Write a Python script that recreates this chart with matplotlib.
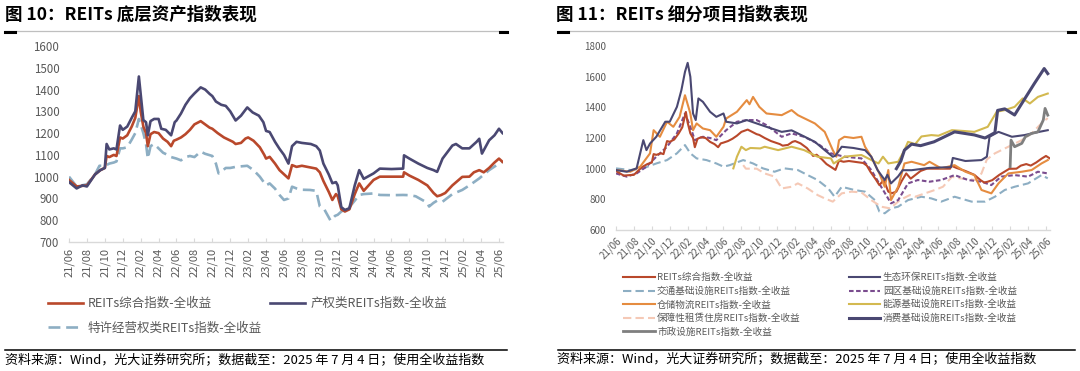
import matplotlib
matplotlib.use('Agg')
import matplotlib.pyplot as plt
from matplotlib.lines import Line2D

plt.rcParams['font.family'] = ['Noto Sans CJK SC', 'DejaVu Sans']

# ---------------- data ----------------
# x positions are months since 2021/06
tick_pos = list(range(0, 49, 2))
tick_labels = ['21/06', '21/08', '21/10', '21/12', '22/02', '22/04', '22/06', '22/08',
               '22/10', '22/12', '23/02', '23/04', '23/06', '23/08', '23/10', '23/12',
               '24/02', '24/04', '24/06', '24/08', '24/10', '24/12', '25/02', '25/04', '25/06']

# REITs综合指数-全收益 (both panels)
t_total = [0, 0.85, 2, 2.9, 3.5, 4.0, 4.2, 4.5, 5, 5.3, 5.7, 6.0, 6.5, 7.0, 7.4, 7.8, 8.0, 8.3,
           8.6, 8.8, 9.1, 9.5, 10.0, 10.5, 11.0, 11.4, 11.7, 12.0, 12.5, 13.0, 13.5, 14.0, 14.7,
           15.2, 15.7, 16.0, 16.6, 17.3, 17.8, 18.3, 18.6, 19.2, 19.7, 20.0, 20.6, 21.3, 21.8,
           22.0, 22.4, 23.0, 23.5, 24.5, 24.9, 25.4, 26, 27.6, 28, 28.4, 29, 29.4, 29.8, 30.0,
           30.4, 30.8, 31.3, 31.9, 32.4, 32.9, 34, 34.7, 36, 37.3, 37.4, 38, 39, 40, 40.7, 41.1,
           41.5, 42, 42.8, 43.9, 44.7, 45.2, 45.8, 46.3, 46.9, 47.5, 48, 48.4]
v_total = [985, 955, 960, 1010, 1030, 1040, 1095, 1090, 1100, 1095, 1180, 1175, 1190, 1230, 1270,
           1370, 1300, 1230, 1200, 1140, 1195, 1205, 1200, 1175, 1160, 1140, 1165, 1170, 1180,
           1195, 1215, 1240, 1255, 1240, 1225, 1220, 1200, 1180, 1170, 1160, 1150, 1155, 1175,
           1180, 1165, 1135, 1100, 1083, 1091, 1060, 1030, 992, 1053, 1045, 1050, 1037, 1020, 980,
           930, 893, 920, 910, 850, 840, 850, 920, 969, 935, 985, 1000, 1000, 1000, 1020, 1005,
           985, 960, 925, 910, 915, 925, 960, 999, 1000, 1020, 1030, 1020, 1040, 1065, 1083, 1068]

# 产权类REITs指数-全收益
t_equity = [0, 0.85, 1.5, 2, 2.9, 3.5, 4.0, 4.2, 4.5, 5.0, 5.3, 5.7, 6.0, 6.5, 7.0, 7.4, 7.8, 8.0,
            8.3, 8.6, 8.8, 9.1, 9.5, 10.0, 10.3, 10.8, 11.4, 11.8, 12.0, 12.5, 13.0, 13.5, 14.0,
            14.7, 15.2, 15.7, 16.0, 16.4, 17.0, 17.5, 18.0, 18.6, 19.2, 19.9, 20.5, 21.2, 21.7,
            22.0, 22.4, 23.0, 23.5, 24.0, 24.5, 24.9, 25.4, 26, 27, 27.6, 28, 28.4, 29, 29.4, 29.8,
            30.0, 30.4, 30.8, 31.3, 31.9, 32.4, 32.9, 34, 34.7, 36, 37.3, 37.4, 38, 39, 40, 40.7,
            41.1, 41.7, 42.8, 43.2, 43.9, 44.7, 45.5, 45.8, 46.1, 46.9, 47.5, 48, 48.4]
v_equity = [975, 946, 960, 955, 1010, 1030, 1040, 1150, 1125, 1130, 1125, 1235, 1215, 1230, 1270,
            1300, 1460, 1380, 1260, 1250, 1190, 1255, 1265, 1265, 1220, 1215, 1190, 1250, 1258,
            1290, 1330, 1360, 1382, 1410, 1400, 1380, 1370, 1345, 1330, 1325, 1300, 1258, 1280,
            1318, 1295, 1280, 1250, 1210, 1205, 1160, 1128, 1100, 1060, 1140, 1160, 1155, 1150,
            1140, 1120, 1060, 1010, 970, 975, 960, 860, 847, 855, 960, 1030, 990, 1015, 1037, 1035,
            1037, 1098, 1083, 1060, 1040, 1030, 1022, 1083, 1143, 1150, 1130, 1130, 1160, 1174,
            1106, 1167, 1190, 1220, 1200]

# 特许经营权类REITs指数-全收益
t_franchise = [0, 0.85, 2, 2.9, 3.4, 4.0, 4.5, 5.0, 5.3, 5.7, 6.0, 6.5, 7.0, 7.4, 7.8, 8.0, 8.3,
               8.6, 8.8, 9.1, 9.5, 10.0, 10.5, 11.0, 11.4, 12.0, 12.5, 13.0, 13.5, 14.0, 14.7,
               15.2, 16.0, 16.4, 16.7, 17.2, 17.5, 18.0, 18.6, 19.9, 20.6, 21.3, 22.0, 22.4, 23.0,
               23.5, 24.0, 24.5, 24.9, 25.4, 26, 26.9, 27.6, 28, 28.5, 29.2, 29.7, 30.0, 30.4, 30.8,
               31.3, 31.9, 32.4, 32.9, 34, 34.7, 36, 37.3, 38, 38.7, 40, 40.2, 40.7, 41.1, 41.7,
               42.8, 43.9, 44.7, 45.8, 46.9, 48, 48.4]
v_franchise = [1000, 955, 965, 1010, 1050, 1050, 1060, 1065, 1070, 1130, 1130, 1135, 1170, 1200,
               1265, 1240, 1200, 1150, 1083, 1140, 1150, 1130, 1110, 1100, 1090, 1083, 1075, 1090,
               1095, 1090, 1115, 1105, 1095, 1060, 1015, 1030, 1040, 1040, 1045, 1050, 1030, 1000,
               960, 969, 945, 916, 893, 900, 954, 946, 940, 939, 935, 863, 850, 798, 820, 825, 840,
               850, 860, 890, 916, 920, 923, 916, 915, 916, 915, 910, 880, 863, 880, 890, 885, 920,
               939, 960, 992, 1030, 1060, 1070]

# 生态环保REITs指数-全收益
t_eco = [0, 1.2, 2.3, 3.05, 3.4, 3.8, 4.5, 5.5, 6.0, 6.8, 7.3, 7.7, 8.0, 8.3, 8.6, 8.9, 9.2, 9.7,
         10.5, 11.2, 12.0, 12.3, 13.5, 14.6, 15.7, 16.8, 18.5, 19.6, 20.3, 21.0, 22.2, 23.3, 24.2,
         24.5, 25.2, 26.5, 27.8, 28.5, 29.2, 30.0, 30.3, 30.7, 31.5, 32, 33, 35, 37.4, 37.6, 39,
         40.8, 41.4, 41.7, 42.7, 44.2, 45.6, 46.8, 48.2]
v_eco = [991, 980, 1002, 1186, 1121, 1164, 1208, 1306, 1306, 1403, 1512, 1631, 1690, 1599, 1360,
         1317, 1458, 1436, 1371, 1338, 1360, 1306, 1295, 1317, 1295, 1273, 1240, 1250, 1230, 1210,
         1175, 1121, 1078, 1085, 1143, 1135, 1121, 1078, 991, 926, 960, 904, 950, 990, 990, 1005,
         1010, 1070, 1050, 1056, 1078, 1208, 1240, 1208, 1219, 1235, 1251]

# 交通基础设施REITs指数-全收益
t_transport = [0, 1.6, 3, 4.5, 5.7, 6.8, 7.7, 8.3, 9, 10.1, 11.2, 12, 12.7, 14.2, 15.3, 16.4,
               17.7, 18.8, 20.3, 21.4, 22.5, 23.7, 24.4, 25.2, 26.6, 27.8, 28.9, 29.4, 30, 30.7,
               31.5, 32.6, 34.1, 35.2, 36.3, 37.8, 39.7, 41.2, 42.3, 43.4, 44.5, 46, 47.5, 48.2]
v_transport = [1002, 991, 1002, 1034, 1056, 1100, 1154, 1100, 1067, 1056, 1034, 1013, 1023, 1056,
               1034, 1002, 980, 1002, 991, 958, 926, 871, 817, 882, 861, 850, 795, 720, 709, 741,
               752, 795, 817, 806, 785, 817, 785, 785, 817, 861, 882, 904, 958, 937]

# 园区基础设施REITs指数-全收益
t_park = [0, 1.2, 2.3, 3.4, 4.5, 5.7, 6.8, 7.7, 8.3, 8.8, 9.7, 10.5, 11.2, 12.3, 13.5, 14.6, 15.7,
          16.8, 18.5, 19.6, 21, 22.5, 24, 25.5, 27.4, 28.5, 29.6, 30.7, 31.5, 32.6, 33.7, 35, 36.3,
          37.8, 39.3, 40.8, 41.9, 43, 44.5, 46, 47.1, 48.2]
v_park = [969, 948, 969, 1013, 1078, 1143, 1230, 1360, 1273, 1186, 1208, 1200, 1186, 1251, 1306,
          1317, 1317, 1284, 1208, 1230, 1208, 1164, 1100, 1078, 1067, 991, 882, 774, 795, 904, 926,
          915, 926, 958, 926, 915, 893, 948, 958, 948, 980, 969]

# 仓储物流REITs指数-全收益
t_logistics = [0, 1.6, 2.7, 3.8, 4.2, 4.9, 5.7, 6.4, 7.1, 7.7, 8.3, 8.6, 9.0, 9.7, 10.5, 11.2, 12,
               12.3, 13.5, 14.6, 14.9, 15.3, 16, 16.8, 18.5, 19.6, 20.3, 22.2, 23.3, 24.2, 24.6,
               24.9, 25.5, 26.5, 27.4, 27.8, 28.5, 29.4, 30, 30.4, 30.7, 31.5, 32.2, 33, 34.4, 35,
               36.3, 37.8, 39, 40, 40.8, 41.9, 42.7, 43.8, 45.3, 46.4, 47.5, 48.2]
v_logistics = [991, 980, 1013, 1100, 1251, 1208, 1306, 1273, 1338, 1479, 1360, 1251, 1295, 1262,
               1251, 1208, 1273, 1327, 1371, 1447, 1420, 1468, 1403, 1360, 1349, 1382, 1349, 1295,
               1240, 1121, 1078, 1186, 1208, 1200, 1208, 1143, 1078, 969, 882, 991, 795, 882, 1034,
               1045, 1023, 1045, 1002, 1023, 980, 958, 861, 839, 904, 969, 980, 991, 1034, 1056]

# 能源基础设施REITs指数-全收益
t_energy = [13.1, 13.5, 14, 14.5, 15, 16.1, 16.6, 18.1, 19.6, 21, 22.5, 24, 24.3, 25.5, 27.4, 28.9,
            29.3, 29.8, 30.4, 31.5, 32.2, 32.6, 33.4, 34.1, 35.2, 36, 37.5, 39, 40, 41.5, 42.5,
            43.4, 44.5, 45.4, 46.2, 47.1, 48.2]
v_energy = [1002, 1078, 1143, 1121, 1135, 1132, 1143, 1121, 1143, 1121, 1078, 1067, 1034, 1078,
            1089, 1045, 1034, 1078, 1034, 1045, 1121, 1175, 1160, 1210, 1219, 1215, 1251, 1245,
            1240, 1273, 1371, 1382, 1403, 1458, 1425, 1468, 1490]

# 保障性租赁住房REITs指数-全收益
t_housing = [14.2, 14.5, 15.7, 16.6, 17.7, 18.5, 19.6, 20.3, 21.4, 22.5, 23.3, 24.2, 25.2, 26.3,
             27.4, 28.5, 29.6, 30.6, 31.7, 32.8, 33.4, 34.5, 35.6, 36.5, 37.5, 38.4, 40.2, 40.8,
             41.4, 42.3, 43.8, 45.3, 46.4, 47.3, 47.7, 48.2]
v_housing = [1023, 1000, 1000, 969, 948, 871, 882, 904, 871, 828, 806, 785, 839, 850, 845, 795,
             752, 741, 795, 828, 817, 839, 861, 882, 947, 937, 926, 969, 1060, 1100, 1143, 1186,
             1230, 1284, 1306, 1330]

# 消费基础设施REITs指数-全收益
t_consumer = [31.3, 31.8, 32.2, 33, 34, 35.5, 37.8, 40, 41.2, 42.3, 42.6, 43.4, 44.5, 45.3, 46,
              46.7, 47.8, 48.2]
v_consumer = [1000, 1050, 1121, 1160, 1150, 1175, 1240, 1220, 1200, 1235, 1380, 1390, 1350, 1425,
              1490, 1555, 1653, 1620]

# 市政设施REITs指数-全收益
t_municipal = [44, 44.1, 44.5, 45.3, 45.7, 46.4, 47.1, 47.7, 47.9, 48.2]
v_municipal = [1013, 1186, 1143, 1165, 1208, 1230, 1240, 1317, 1393, 1349]

# ---------------- styling ----------------
W, H = 1080, 371
RED = '#B9482B'
NAVY = '#4A4872'
LBLUE = '#8DAEC3'
ORANGE = '#E58C40'
PURPLE = '#7A4C8E'
GOLD = '#D3B950'
PEACH = '#F5C9B6'
GRAY = '#7F7F7F'
TICKC = '#595959'


def fx(px):
    return px / W


def fy(py):
    return 1 - py / H


fig = plt.figure(figsize=(W / 100, H / 100), dpi=100)


def style_axis(ax, ymin, ymax, ystep, yfs, xfs, rot):
    ax.set_xlim(0, 48.45)
    ax.set_ylim(ymin, ymax)
    ax.set_yticks(list(range(ymin, ymax + 1, ystep)))
    ax.set_xticks(tick_pos)
    if rot == 90:
        ax.set_xticklabels(tick_labels, rotation=90, ha='center', va='top')
    else:
        ax.set_xticklabels(tick_labels, rotation=45, ha='right', va='top',
                           rotation_mode='anchor')
    for s in ['top', 'right', 'left']:
        ax.spines[s].set_visible(False)
    ax.spines['bottom'].set_color('#D9D9D9')
    ax.spines['bottom'].set_linewidth(1.0)
    ax.tick_params(axis='y', length=0, pad=7, labelsize=yfs, labelcolor=TICKC)
    ax.tick_params(axis='x', direction='in', length=3, width=0.8, color='#D9D9D9',
                   pad=4, labelsize=xfs, labelcolor=TICKC)
    ax.patch.set_alpha(0)


# ---------------- left panel ----------------
axL = fig.add_axes([fx(69), fy(242), fx(503) - fx(69), (242 - 46) / H])
style_axis(axL, 700, 1600, 100, 8.3, 8.0, 90)
hF, = axL.plot(t_franchise, v_franchise, color=LBLUE, lw=1.9, ls=(0, (4.5, 2.2)))
hT, = axL.plot(t_total, v_total, color=RED, lw=1.9)
hE, = axL.plot(t_equity, v_equity, color=NAVY, lw=1.9)

fig.legend([hT, hF, hE],
           ['REITs综合指数-全收益', '特许经营权类REITs指数-全收益', '产权类REITs指数-全收益'],
           loc='upper left', bbox_to_anchor=(fx(48), fy(297)), bbox_transform=fig.transFigure,
           ncol=2, frameon=False, fontsize=9, handlelength=2.8, handletextpad=0.4,
           columnspacing=0.65, labelspacing=0.92, borderpad=0, borderaxespad=0,
           labelcolor=TICKC)

# ---------------- right panel ----------------
axR = fig.add_axes([fx(616), fy(230), fx(1050) - fx(616), (230 - 46) / H])
style_axis(axR, 600, 1800, 200, 7.0, 7.0, 45)
lw = 1.5
h_trans, = axR.plot(t_transport, v_transport, color=LBLUE, lw=lw, ls=(0, (4, 2)))
h_hous, = axR.plot(t_housing, v_housing, color=PEACH, lw=lw, ls=(0, (4, 2)))
h_park, = axR.plot(t_park, v_park, color=PURPLE, lw=lw, ls=(0, (2.2, 1.2)))
h_tot, = axR.plot(t_total, v_total, color=RED, lw=lw)
h_ener, = axR.plot(t_energy, v_energy, color=GOLD, lw=lw)
h_log, = axR.plot(t_logistics, v_logistics, color=ORANGE, lw=lw)
h_eco, = axR.plot(t_eco, v_eco, color=NAVY, lw=lw)
h_mun, = axR.plot(t_municipal, v_municipal, color=GRAY, lw=2.0)
h_con, = axR.plot(t_consumer, v_consumer, color=NAVY, lw=2.2)

fig.legend([h_tot, h_trans, h_log, h_hous, h_mun, h_eco, h_park, h_ener, h_con],
           ['REITs综合指数-全收益', '交通基础设施REITs指数-全收益', '仓储物流REITs指数-全收益',
            '保障性租赁住房REITs指数-全收益', '市政设施REITs指数-全收益',
            '生态环保REITs指数-全收益', '园区基础设施REITs指数-全收益',
            '能源基础设施REITs指数-全收益', '消费基础设施REITs指数-全收益'],
           loc='upper left', bbox_to_anchor=(fx(623), fy(273)), bbox_transform=fig.transFigure,
           ncol=2, frameon=False, fontsize=6.9, handlelength=3.3, handletextpad=0.25,
           columnspacing=5.0, labelspacing=0.42, borderpad=0, borderaxespad=0,
           labelcolor=TICKC)

# ---------------- titles, rules, sources ----------------
fig.text(fx(5), fy(15), '图 10：REITs 底层资产指数表现', fontsize=12.6, fontweight='bold',
         ha='left', va='center', color='black')
fig.text(fx(556), fy(15), '图 11：REITs 细分项目指数表现', fontsize=12.6, fontweight='bold',
         ha='left', va='center', color='black')

for x0, x1 in [(5, 507), (558, 1075)]:
    fig.add_artist(Line2D([fx(x0), fx(x1)], [fy(31), fy(31)], color='#BFBFBF', lw=0.9))
    fig.add_artist(Line2D([fx(x0), fx(x0 + 10)], [fy(31.5), fy(31.5)], color='black', lw=2.2))
    fig.add_artist(Line2D([fx(x1 - 7), fx(x1)], [fy(31.5), fy(31.5)], color='black', lw=2.2))
    fig.add_artist(Line2D([fx(x0), fx(x1)], [fy(349.5), fy(349.5)], color='black', lw=1.1))

src = '资料来源：Wind，光大证券研究所；数据截至：2025 年 7 月 4 日；使用全收益指数'
fig.text(fx(5), fy(361), src, fontsize=9.4, ha='left', va='center', color='black')
fig.text(fx(557), fy(360), src, fontsize=9.4, ha='left', va='center', color='black')

fig.savefig('out.png', dpi=100)
